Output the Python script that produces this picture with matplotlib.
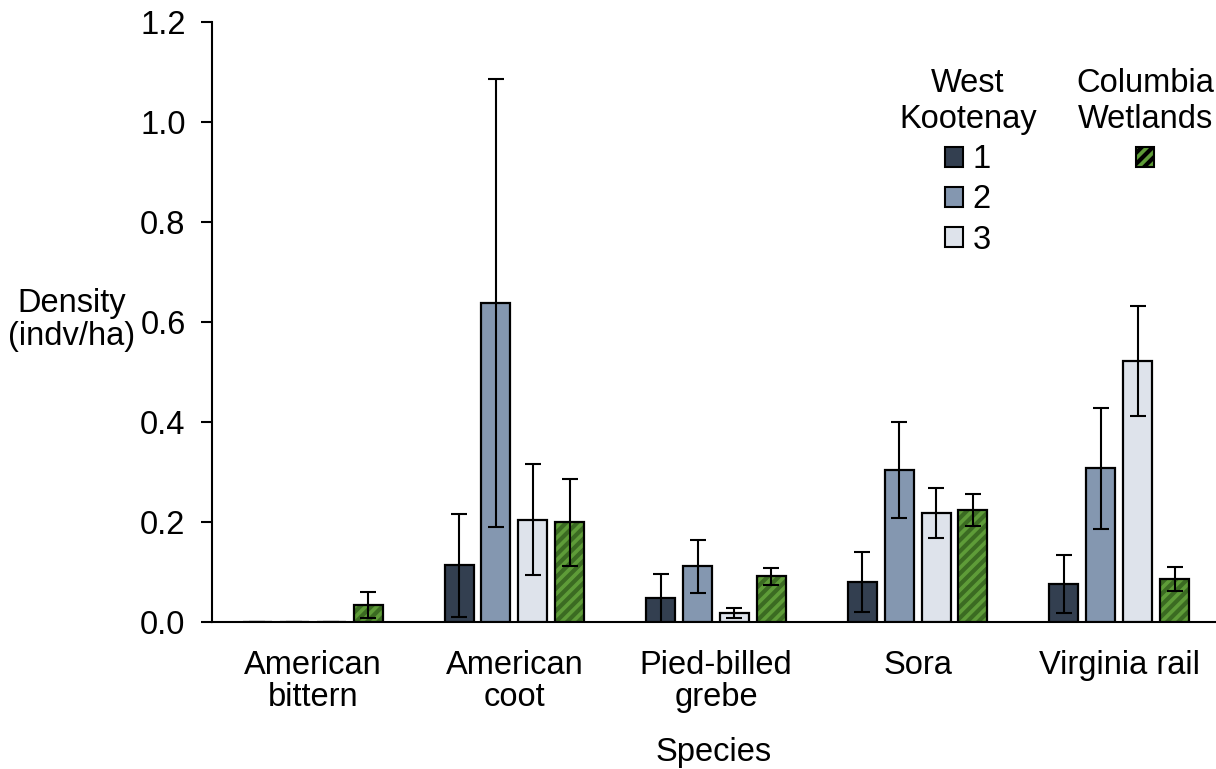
import numpy as np
import matplotlib.pyplot as plt
from matplotlib.patches import Patch

plt.rcParams['font.family'] = ['Liberation Sans', 'DejaVu Sans']
plt.rcParams['hatch.linewidth'] = 3

species = ["American\nbittern", "American\ncoot", "Pied-billed\ngrebe", "Sora", "Virginia rail"]
wk1 = [0.0, 0.114, 0.048, 0.080, 0.076]
wk1_err = [0.0, 0.103, 0.049, 0.060, 0.058]
wk2 = [0.0, 0.638, 0.112, 0.304, 0.308]
wk2_err = [0.0, 0.448, 0.053, 0.096, 0.121]
wk3 = [0.0, 0.205, 0.018, 0.218, 0.522]
wk3_err = [0.0, 0.111, 0.010, 0.050, 0.110]
cw = [0.034, 0.200, 0.092, 0.224, 0.086]
cw_err = [0.026, 0.087, 0.017, 0.032, 0.024]

col1 = "#333f50"
col2 = "#8497b0"
col3 = "#dee3eb"
green = "#5e9c38"
stripe = "#3b6b22"
fs = 23.5

fig = plt.figure(figsize=(12.16, 7.69), dpi=100)
ax = fig.add_axes([212/1216, 147/769, 1004/1216, 600/769])

x = np.arange(len(species))
w = 0.144
step = 0.183
err_kw = dict(fmt="none", ecolor="black", elinewidth=1.5, capsize=6, capthick=1.5, zorder=5)

for vals, errs, c, off in [(wk1, wk1_err, col1, -1.5), (wk2, wk2_err, col2, -0.5), (wk3, wk3_err, col3, 0.5)]:
    ax.bar(x + off*step, vals, w, color=c, edgecolor="black", linewidth=1.6, zorder=3)
    ax.errorbar(x + off*step, vals, yerr=errs, **err_kw)

# hatched green bars: stripes first, then black outline on top
ax.bar(x + 1.5*step, cw, w, color=green, edgecolor=stripe, hatch="///", linewidth=0, zorder=3)
ax.bar(x + 1.5*step, cw, w, color="none", edgecolor="black", linewidth=1.6, zorder=4)
ax.errorbar(x + 1.5*step, cw, yerr=cw_err, **err_kw)

ax.set_xlim(-0.5, 4.48)
ax.set_ylim(0, 1.2)
ax.set_yticks(np.arange(0, 1.21, 0.2))
ax.set_yticklabels([f"{v:.1f}" for v in np.arange(0, 1.21, 0.2)], fontsize=fs)
ax.set_xticks(x)
ax.set_xticklabels(species, fontsize=fs, linespacing=1.05)
ax.tick_params(axis="x", length=0, pad=20)
ax.tick_params(axis="y", length=8, width=1.5, pad=11)
for s in ["top", "right"]:
    ax.spines[s].set_visible(False)
ax.spines["left"].set_linewidth(1.5)
ax.spines["bottom"].set_linewidth(1.5)

ax.set_xlabel("Species", fontsize=fs, labelpad=17)
fig.text(72/1216, 1 - 320/769, "Density\n(indv/ha)", fontsize=fs, ha="center", va="center", linespacing=1.12)

h1 = [Patch(facecolor=c, edgecolor="black", linewidth=1.5) for c in (col1, col2, col3)]
leg1 = ax.legend(h1, ["1", "2", "3"], title="West\nKootenay", fontsize=fs, title_fontsize=fs,
                 frameon=False, loc="upper center", bbox_to_anchor=(968/1216, 1 - 52/769),
                 bbox_transform=fig.transFigure, handlelength=0.55, handleheight=0.55,
                 handletextpad=0.3, labelspacing=0.28, borderpad=0)
leg1.get_title().set_linespacing(1.2)
leg1.get_title().set_multialignment("center")
ax.add_artist(leg1)
h2 = [Patch(facecolor=green, edgecolor="black", hatch="///", linewidth=1.5)]
leg2 = ax.legend(h2, [""], title="Columbia\nWetlands", fontsize=fs, title_fontsize=fs,
                 frameon=False, loc="upper center", bbox_to_anchor=(1145/1216, 1 - 52/769),
                 bbox_transform=fig.transFigure, handlelength=0.55, handleheight=0.55,
                 handletextpad=0, labelspacing=0.28, borderpad=0)
leg2.get_title().set_linespacing(1.2)
leg2.get_title().set_multialignment("center")

fig.savefig("out.png", dpi=100)
